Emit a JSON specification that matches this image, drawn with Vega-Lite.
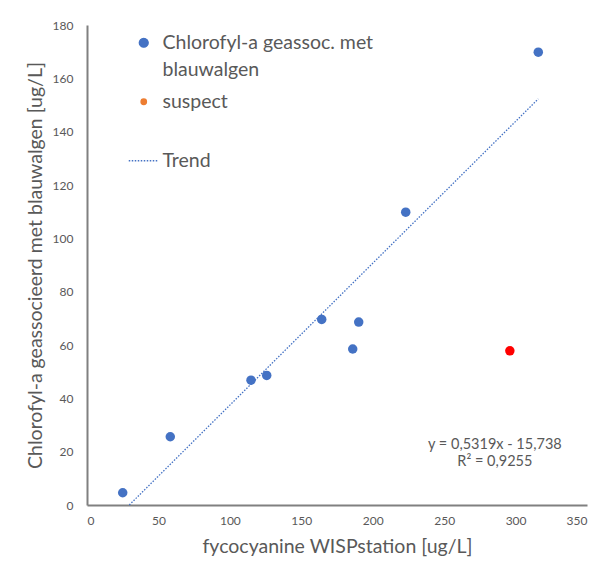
{
  "$schema": "https://vega.github.io/schema/vega-lite/v6.json",
  "width": 500,
  "height": 480,
  "autosize": {"type": "none"},
  "padding": {"left": 87, "top": 25, "right": 21, "bottom": 65},
  "background": "white",
  "config": {
    "view": {"stroke": null},
    "font": "Lato",
    "axis": {
      "grid": false,
      "ticks": false,
      "domainColor": "#808080",
      "domainWidth": 2,
      "labelFont": "Lato",
      "labelFontSize": 12,
      "labelColor": "#595959",
      "titleFont": "Lato",
      "titleFontSize": 19.5,
      "titleFontWeight": "normal",
      "titleColor": "#595959"
    }
  },
  "datasets": {
    "pts": [
      {"fyco": 25.0, "chl": 4.6, "series": "Chlorofyl-a geassoc. met blauwalgen"},
      {"fyco": 58.3, "chl": 25.6, "series": "Chlorofyl-a geassoc. met blauwalgen"},
      {"fyco": 114.8, "chl": 46.8, "series": "Chlorofyl-a geassoc. met blauwalgen"},
      {"fyco": 125.8, "chl": 48.6, "series": "Chlorofyl-a geassoc. met blauwalgen"},
      {"fyco": 164.3, "chl": 69.6, "series": "Chlorofyl-a geassoc. met blauwalgen"},
      {"fyco": 190.2, "chl": 68.6, "series": "Chlorofyl-a geassoc. met blauwalgen"},
      {"fyco": 186.0, "chl": 58.5, "series": "Chlorofyl-a geassoc. met blauwalgen"},
      {"fyco": 223.1, "chl": 109.8, "series": "Chlorofyl-a geassoc. met blauwalgen"},
      {"fyco": 315.9, "chl": 169.8, "series": "Chlorofyl-a geassoc. met blauwalgen"}
    ],
    "suspect": [
      {"fyco": 296.0, "chl": 57.8, "series": "suspect"}
    ],
    "trend": [
      {"fyco": 29.6, "chl": 0, "series": "Trend"},
      {"fyco": 315.9, "chl": 152.3, "series": "Trend"}
    ],
    "eq": [
      {"fyco": 285.5, "chl": 22.5}
    ]
  },
  "encoding": {
    "x": {
      "field": "fyco", "type": "quantitative",
      "scale": {"domain": [0, 350], "nice": false},
      "axis": {"values": [0, 50, 100, 150, 200, 250, 300, 350], "labelPadding": 10, "titlePadding": 11, "title": "fycocyanine WISPstation [ug/L]"}
    },
    "y": {
      "field": "chl", "type": "quantitative",
      "scale": {"domain": [0, 180], "nice": false},
      "axis": {"values": [0, 20, 40, 60, 80, 100, 120, 140, 160, 180], "labelPadding": 14, "titlePadding": 7, "title": "Chlorofyl-a geassocieerd met blauwalgen [ug/L]"}
    }
  },
  "layer": [
    {
      "data": {"name": "trend"},
      "mark": {"type": "line", "strokeDash": [1.5, 1.5], "strokeWidth": 1.3},
      "encoding": {
        "color": {
          "field": "series", "type": "nominal",
          "scale": {
            "domain": ["Chlorofyl-a geassoc. met blauwalgen", "suspect", "Trend"],
            "range": ["#4472C4", "#ED7D31", "#4472C4"]
          },
          "legend": {
            "title": null,
            "orient": "none",
            "legendX": 47,
            "legendY": 8,
            "labelFont": "Lato",
            "labelFontSize": 19.5,
            "labelColor": "#595959",
            "labelLimit": 400,
            "labelOffset": 9,
            "rowPadding": 11,
            "symbolSize": 900,
            "labelExpr": "datum.label == 'Chlorofyl-a geassoc. met blauwalgen' ? ['Chlorofyl-a geassoc. met', 'blauwalgen'] : (datum.label == 'suspect' ? ['suspect', ''] : datum.label)",
            "encode": {
              "labels": {"update": {"lineHeight": {"value": 27}}},
              "symbols": {
                "update": {
                  "shape": {"signal": "datum.value == 'Trend' ? 'stroke' : 'circle'"},
                  "size": {"signal": "datum.value == 'Trend' ? 900 : (datum.value == 'suspect' ? 30 : 80)"},
                  "fill": {"signal": "datum.value == 'Trend' ? 'transparent' : (datum.value == 'suspect' ? '#ED7D31' : '#4472C4')"},
                  "stroke": {"signal": "datum.value == 'Trend' ? '#4472C4' : 'transparent'"},
                  "strokeDash": {"signal": "datum.value == 'Trend' ? [1.5, 1.5] : []"},
                  "strokeWidth": {"value": 1.3},
                  "opacity": {"value": 1}
                }
              }
            }
          }
        }
      }
    },
    {
      "data": {"name": "pts"},
      "mark": {"type": "point", "filled": true, "opacity": 1, "size": 90},
      "encoding": {
        "color": {"field": "series", "type": "nominal"}
      }
    },
    {
      "data": {"name": "suspect"},
      "mark": {"type": "point", "filled": true, "opacity": 1, "size": 90, "color": "#FF0000"}
    },
    {
      "data": {"name": "eq"},
      "mark": {"type": "text", "font": "Lato", "fontSize": 14.5, "color": "#595959", "align": "center", "baseline": "middle", "lineHeight": 17},
      "encoding": {
        "text": {"value": ["y = 0,5319x - 15,738", "R² = 0,9255"]}
      }
    }
  ]
}
